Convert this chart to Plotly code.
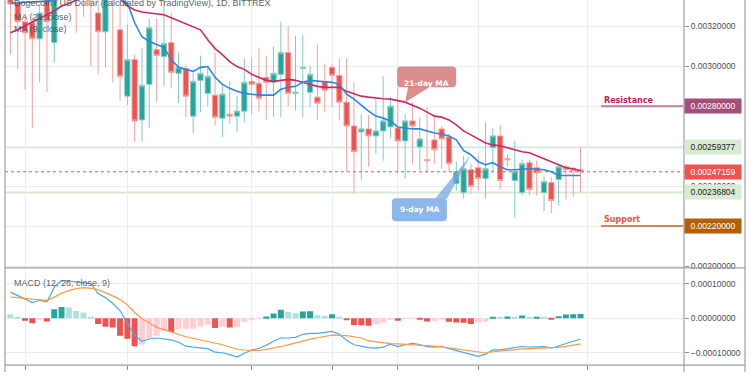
import numpy as np
import plotly.graph_objects as go

# ---------------- data (prices in millionths: value * 1e-6) ----------------
UNIT = 1e-6
open_ = [3360, 3316, 3222, 3217, 3137, 3356, 3118, 3380, 3450, 3400, 3360, 3350, 3266, 3172, 3365, 3182,
         2850, 3033, 2731, 2909, 3083, 3048, 3118, 2964, 2989, 2750, 2929, 2864, 2855, 2740, 2760, 2750,
         2775, 2924, 2914, 2944, 2919, 2959, 3068, 2864, 2989, 2869, 2845, 2924, 2994, 2954, 2820, 2701,
         2671, 2686, 2651, 2676, 2696, 2691, 2626, 2726, 2596, 2532, 2631, 2686, 2646, 2413, 2368, 2482,
         2492, 2438, 2592, 2651, 2537, 2428, 2368, 2517, 2492, 2368, 2418, 2433, 2497, 2487, 2482]
high = [3390, 3340, 3257, 3245, 3306, 3380, 3400, 3480, 3490, 3430, 3400, 3380, 3345, 3380, 3390, 3345,
        3207, 3058, 3093, 3237, 3237, 3356, 3266, 3068, 3008, 2969, 3053, 2994, 3068, 2904, 2924, 2850,
        3038, 3043, 3093, 3053, 3098, 3222, 3202, 3152, 3157, 3003, 3108, 3013, 3008, 3038, 3038, 2919,
        2760, 2755, 2835, 2949, 2845, 2894, 2760, 2820, 2745, 2795, 2745, 2701, 2661, 2522, 2552, 2512,
        2552, 2721, 2691, 2706, 2557, 2626, 2532, 2532, 2527, 2448, 2443, 2512, 2507, 2497, 2593.77]
low = [3058, 2984, 2884, 2691, 2919, 2869, 3018, 3345, 3360, 3167, 3247, 2998, 2959, 2994, 2919, 2825,
       2805, 2621, 2621, 2691, 2825, 2899, 2889, 2815, 2745, 2666, 2770, 2800, 2701, 2646, 2711, 2671,
       2721, 2760, 2775, 2731, 2745, 2745, 2800, 2780, 2745, 2795, 2731, 2770, 2795, 2731, 2472, 2363,
       2428, 2497, 2562, 2527, 2641, 2467, 2438, 2512, 2482, 2467, 2512, 2487, 2472, 2378, 2338, 2363,
       2378, 2338, 2472, 2383, 2497, 2244, 2353, 2353, 2353, 2274, 2264, 2304, 2333, 2348, 2368.04]
close = [3311, 3222, 3167, 3137, 3266, 3222, 3381, 3450, 3390, 3350, 3345, 3340, 3172, 3355, 3345, 2949,
         3033, 2726, 2904, 3192, 3053, 3113, 2969, 2994, 2850, 2924, 2964, 2949, 2745, 2860, 2750, 2775,
         2919, 2909, 2840, 2919, 2964, 3068, 2864, 2869, 2994, 2959, 2815, 2879, 2954, 2820, 2701, 2572,
         2686, 2651, 2676, 2726, 2800, 2626, 2726, 2701, 2636, 2527, 2582, 2636, 2512, 2472, 2487, 2398,
         2438, 2487, 2651, 2428, 2532, 2472, 2512, 2383, 2467, 2423, 2328, 2497, 2482, 2477, 2471.59]
ma21 = [3167, 3182, 3202, 3219, 3239, 3257, 3276, 3301, 3314, 3331, 3341, 3351, 3356, 3351, 3346, 3336,
        3301, 3281, 3271, 3266, 3262, 3257, 3242, 3227, 3212, 3197, 3182, 3132, 3088, 3058, 3023, 2998,
        2984, 2959, 2944, 2929, 2924, 2929, 2934, 2929, 2919, 2909, 2899, 2894, 2894, 2894, 2874, 2860,
        2850, 2845, 2840, 2837, 2835, 2827, 2820, 2805, 2790, 2770, 2750, 2745, 2731, 2706, 2676, 2656,
        2636, 2616, 2606, 2601, 2592, 2582, 2572, 2567, 2552, 2537, 2522, 2505, 2492, 2487, 2477]
ma9 = [3314, 3316, 3319, 3319, 3321, 3326, 3331, 3356, 3381, 3405, 3420, 3420, 3405, 3381, 3361, 3336,
       3316, 3217, 3147, 3123, 3108, 3093, 3033, 2994, 2984, 2974, 2994, 2998, 2944, 2909, 2889, 2874,
       2864, 2860, 2855, 2855, 2855, 2884, 2894, 2899, 2919, 2929, 2924, 2922, 2919, 2909, 2860, 2835,
       2805, 2775, 2750, 2740, 2726, 2696, 2691, 2686, 2686, 2676, 2666, 2661, 2651, 2631, 2577, 2557,
       2522, 2507, 2517, 2497, 2482, 2482, 2485, 2487, 2485, 2482, 2472, 2453, 2453, 2453, 2453]

# MACD values in millionths
macd = [75.3, 65.2, 55.2, 45.1, 51.7, 47.1, 89.7, 109.2, 107.5, 104, 102.6, 99.7, 71, 59.5, 42.2, 21.3,
        -12.4, -49.7, -67, -60.4, -57.5, -59.2, -62.9, -69.8, -81.3, -84.2, -86.2, -88.5, -98.6, -100.3,
        -105.8, -113, -101.5, -92.8, -87.1, -78.5, -67, -57.5, -57.5, -55.5, -46.8, -44, -44, -41.1, -38.2,
        -46.8, -64.1, -77, -81.3, -85.6, -87.1, -84.2, -75.6, -82.2, -77, -72.7, -76.4, -82.8, -84.2,
        -82.2, -88.5, -94.3, -101.5, -107.2, -110.9, -104.3, -92, -92, -88.5, -84.2, -82.2, -83.6, -82.8,
        -82.8, -87.1, -79.9, -74.1, -67, -61.2]
signal = [61.2, 60.1, 57.5, 54.9, 53.2, 51.7, 60.9, 72.4, 79.6, 85.4, 88.2, 86.5, 82.5, 73.9, 64.4, 53.7,
          37.9, 16.4, -0.9, -13.8, -26.7, -33.3, -40.2, -47.7, -54, -58.3, -62.7, -67.8, -72.7, -77,
          -83.6, -89.4, -92.3, -93.7, -93.7, -90.5, -87.1, -82.2, -77.6, -72.1, -65, -60.6, -56.9, -53.5,
          -49.1, -49.7, -50.6, -54, -57.5, -66.1, -68.4, -72.7, -73.9, -74.7, -75.6, -76.7, -78.5, -79.9,
          -81, -83.1, -85.9, -88.8, -92, -94.6, -96.9, -100.9, -97.4, -94.8, -92.8, -90.8, -89.1, -88.5,
          -87.9, -87.4, -87.1, -84.5, -81.9, -78.5, -74.4]
hist = [11.5, 4, -7.7, -15, -5.8, -9.6, 26, 32.6, 30.7, 21, 16.3, 4, -17.3, -25, -26.8, -50.8, -60, -81.4,
        -76.6, -60, -50.8, -38, -40, -31.6, -31, -30.5, -25, -19.2, -28.7, -25, -26.8, -25, -10.5, -2.9,
        -0.8, 4.8, 13.4, 24, 18.2, 14.4, 19.2, 20.1, 8.6, 6.7, 11.5, 4.8, -5.8, -20, -20.5, -22, -18,
        -12.5, -3, -7.7, -2, -0.5, -4, -9.6, -7.7, -4.8, -10.5, -12.5, -13, -17.3, -12.5, -10.5, 3, 2,
        4.8, 3.8, 7.7, 2, 3, 2, -3, 5.8, 10.5, 11.5, 11.8]

resistance = 0.0028
support = 0.0022
upper_level = 0.00259377
lower_level = 0.00236804

grid_days = [2, 16, 33, 44, 53, 64, 79]
price_ticks = [0.0020, 0.0022, 0.0024, 0.0026, 0.0028, 0.0030, 0.0032]
macd_ticks = [-0.0001, 0.0, 0.0001]

title_text = "Dogecoin / US Dollar (calculated by TradingView), 1D, BITTREX"
ma21_label = "MA (21, close)"
ma9_label = "MA (9, close)"
macd_label = "MACD (12, 26, close, 9)"

# ---------------- derived ----------------
idx = np.arange(len(close))
O = np.array(open_) * UNIT
Hh = np.array(high) * UNIT
L = np.array(low) * UNIT
C = np.array(close) * UNIT
M21 = np.array(ma21) * UNIT
M9 = np.array(ma9) * UNIT
MD = np.array(macd) * UNIT
SG = np.array(signal) * UNIT
HS = np.array(hist) * UNIT
last_close = C[-1]

hist_colors = []
prev = np.inf
for h in HS:
    if h >= 0:
        hist_colors.append('#26a69a' if h > prev else '#b2dfdb')
    else:
        hist_colors.append('#ef5350' if h < prev else '#ffcdd2')
    prev = h

# ---------------- geometry ----------------
W, H = 750, 375
X0, X1 = 5, 684
P_TOP, P_BOT = 0, 270
M_TOP, M_BOT = 270, 368
xr = [-0.74, 92.15]
yr = [0.001991, 0.003331]
y2r = [-0.0001359, 0.0001457]
GRID = '#e8eef4'
AXC = '#9c9fa8'
TICKFONT = dict(family='Liberation Sans, Arial', size=8.5, color='#4a4d57')


def px_x(i):
    return X0 + (i - xr[0]) / (xr[1] - xr[0]) * (X1 - X0)


def px_y(p):
    return P_TOP + (yr[1] - p) / (yr[1] - yr[0]) * (P_BOT - P_TOP)


def pp(x, y):
    return f"{x / W:.5f},{1 - y / H:.5f}"


def rrect(x0, y0, x1, y1, r):
    return (f"M{pp(x0 + r, y0)} L{pp(x1 - r, y0)} Q{pp(x1, y0)} {pp(x1, y0 + r)} "
            f"L{pp(x1, y1 - r)} Q{pp(x1, y1)} {pp(x1 - r, y1)} L{pp(x0 + r, y1)} "
            f"Q{pp(x0, y1)} {pp(x0, y1 - r)} L{pp(x0, y0 + r)} Q{pp(x0, y0)} {pp(x0 + r, y0)} Z")


def tri(a, b, c):
    return f"M{pp(*a)} L{pp(*b)} L{pp(*c)} Z"


fig = go.Figure()

fig.add_trace(go.Candlestick(
    x=idx, open=O, high=Hh, low=L, close=C,
    increasing=dict(line=dict(color='#80cbc4', width=1), fillcolor='#26a69a'),
    decreasing=dict(line=dict(color='#f5a09e', width=1), fillcolor='#ef5350'),
    whiskerwidth=0, hoverinfo='skip', showlegend=False, xaxis='x', yaxis='y'))

fig.add_trace(go.Scatter(x=idx, y=M21, mode='lines', line=dict(color='#cc2a65', width=1.6),
                         hoverinfo='skip', showlegend=False, xaxis='x', yaxis='y'))
fig.add_trace(go.Scatter(x=idx, y=M9, mode='lines', line=dict(color='#2f86e0', width=1.6),
                         hoverinfo='skip', showlegend=False, xaxis='x', yaxis='y'))

fig.add_trace(go.Bar(x=idx, y=HS, marker=dict(color=hist_colors, line=dict(width=0)), width=0.82,
                     hoverinfo='skip', showlegend=False, xaxis='x2', yaxis='y2'))
fig.add_trace(go.Scatter(x=idx, y=MD, mode='lines', line=dict(color='#4aa8f5', width=1.2),
                         hoverinfo='skip', showlegend=False, xaxis='x2', yaxis='y2'))
fig.add_trace(go.Scatter(x=idx, y=SG, mode='lines', line=dict(color='#ff9a45', width=1.2),
                         hoverinfo='skip', showlegend=False, xaxis='x2', yaxis='y2'))

shapes = []
# horizontal levels across the price pane
shapes.append(dict(type='line', xref='paper', yref='y', x0=X0 / W, x1=X1 / W, y0=upper_level, y1=upper_level,
                   line=dict(color='#d9ead3', width=2), layer='below'))
shapes.append(dict(type='line', xref='paper', yref='y', x0=X0 / W, x1=X1 / W, y0=lower_level, y1=lower_level,
                   line=dict(color='#d9ead3', width=2), layer='below'))
shapes.append(dict(type='line', xref='paper', yref='y', x0=X0 / W, x1=X1 / W, y0=last_close, y1=last_close,
                   line=dict(color='#ef5350', width=1, dash='dot')))
shapes.append(dict(type='line', xref='paper', yref='y', x0=601 / W, x1=683 / W, y0=resistance, y1=resistance,
                   line=dict(color='#c27ba0', width=2)))
shapes.append(dict(type='line', xref='paper', yref='y', x0=601 / W, x1=683 / W, y0=support, y1=support,
                   line=dict(color='#cc8a4c', width=2)))
# pane frame
for (xa, ya, xb, yb) in [(5, 270, 745, 270), (5, 368, 745, 368), (5, 0, 5, 375),
                         (684, 0, 684, 375), (745, 0, 745, 375)]:
    shapes.append(dict(type='line', xref='paper', yref='paper', x0=xa / W, x1=xb / W,
                       y0=1 - ya / H, y1=1 - yb / H, line=dict(color=AXC, width=1.2)))

# callouts
ti = 54
tx, ty = px_x(ti), px_y(M21[ti])
b21 = (tx - 8, ty - 36, tx + 51, ty - 15)
shapes.append(dict(type='path', xref='paper', yref='paper', path=rrect(*b21, 4),
                   fillcolor='rgba(210,110,110,0.78)', line=dict(width=0)))
shapes.append(dict(type='path', xref='paper', yref='paper',
                   path=tri((tx + 3, ty - 15.5), (tx + 25, ty - 15.5), (tx, ty)),
                   fillcolor='rgba(210,110,110,0.78)', line=dict(width=0)))
ti2 = 63
sx, sy = px_x(ti2), px_y(M9[ti2])
b9 = (sx - 79, sy + 44, sx - 24, sy + 67)
shapes.append(dict(type='path', xref='paper', yref='paper', path=rrect(*b9, 4),
                   fillcolor='rgba(120,170,230,0.85)', line=dict(width=0)))
shapes.append(dict(type='path', xref='paper', yref='paper',
                   path=tri((sx - 36, sy + 44.5), (sx - 24, sy + 44.5), (sx, sy)),
                   fillcolor='rgba(120,170,230,0.75)', line=dict(width=0)))

annotations = []
TXT = dict(family='Liberation Sans, Arial', size=9, color='rgba(70,73,85,0.9)')
for text, ypx, size in [(title_text, 3, 9), (ma21_label, 17, 9), (ma9_label, 29, 9), (macd_label, 285.5, 9)]:
    annotations.append(dict(x=12 / W, y=1 - ypx / H, xref='paper', yref='paper', xanchor='left',
                            yanchor='middle', text=text, showarrow=False, font=TXT))

def axis_box(value, bg, fg):
    return dict(x=X1 / W, y=value, xref='paper', yref='y', xanchor='left', yanchor='middle',
                text=f"{value:.8f}", showarrow=False, bgcolor=bg, borderpad=1, width=54, height=12,
                font=dict(family='Liberation Sans, Arial', size=8.5, color=fg))

annotations += [axis_box(resistance, '#a64d79', 'white'),
                axis_box(upper_level, '#d9ead3', '#222222'),
                axis_box(last_close, '#ef5350', 'white'),
                axis_box(lower_level, '#d9ead3', '#222222'),
                axis_box(support, '#b45f06', 'white')]

annotations.append(dict(x=602 / W, y=resistance, xref='paper', yref='y', xanchor='left', yanchor='middle',
                        yshift=6, text='<b>Resistance</b>', showarrow=False,
                        font=dict(family='DejaVu Sans', size=8, color='#c2185b')))
annotations.append(dict(x=602 / W, y=support, xref='paper', yref='y', xanchor='left', yanchor='middle',
                        yshift=7, text='<b>Support</b>', showarrow=False,
                        font=dict(family='DejaVu Sans', size=8, color='#f4533c')))

CALLF = dict(family='DejaVu Sans', size=7.5, color='white')
annotations.append(dict(x=(b21[0] + b21[2]) / 2 / W, y=1 - (b21[1] + b21[3]) / 2 / H, xref='paper', yref='paper',
                        text='<b>21-day MA</b>', showarrow=False, font=CALLF))
annotations.append(dict(x=(b9[0] + b9[2]) / 2 / W, y=1 - (b9[1] + b9[3]) / 2 / H, xref='paper', yref='paper',
                        text='<b>9-day MA</b>', showarrow=False, font=CALLF))

fig.update_layout(
    width=W, height=H, margin=dict(l=0, r=0, t=0, b=0),
    paper_bgcolor='white', plot_bgcolor='white', showlegend=False,
    boxgap=0.15, boxgroupgap=0.15, bargap=0.1,
    xaxis=dict(domain=[X0 / W, X1 / W], range=xr, tickvals=grid_days, showticklabels=False,
               showgrid=True, gridcolor=GRID, zeroline=False, rangeslider=dict(visible=False),
               anchor='y', fixedrange=True),
    yaxis=dict(domain=[1 - P_BOT / H, 1 - P_TOP / H], range=yr, side='right', tickvals=price_ticks,
               tickformat='.8f', ticks='outside', ticklen=4, tickcolor='#8a8d96', showline=False,
               gridcolor=GRID, zeroline=False, tickfont=TICKFONT, anchor='x', fixedrange=True),
    xaxis2=dict(domain=[X0 / W, X1 / W], range=xr, tickvals=grid_days, showticklabels=False,
                showgrid=True, gridcolor=GRID, zeroline=False, ticks='outside', ticklen=4,
                tickcolor='#8a8d96', anchor='y2', fixedrange=True),
    yaxis2=dict(domain=[1 - M_BOT / H, 1 - M_TOP / H], range=y2r, side='right', tickvals=macd_ticks,
                tickformat='.8f', ticks='outside', ticklen=4, tickcolor='#8a8d96', showline=False,
                gridcolor=GRID, zeroline=False, tickfont=TICKFONT, anchor='x2', fixedrange=True),
    shapes=shapes, annotations=annotations,
)

fig.write_html("out.html", config={'displayModeBar': False},
               post_script="document.body.style.margin='0px';document.body.style.overflow='hidden';")
